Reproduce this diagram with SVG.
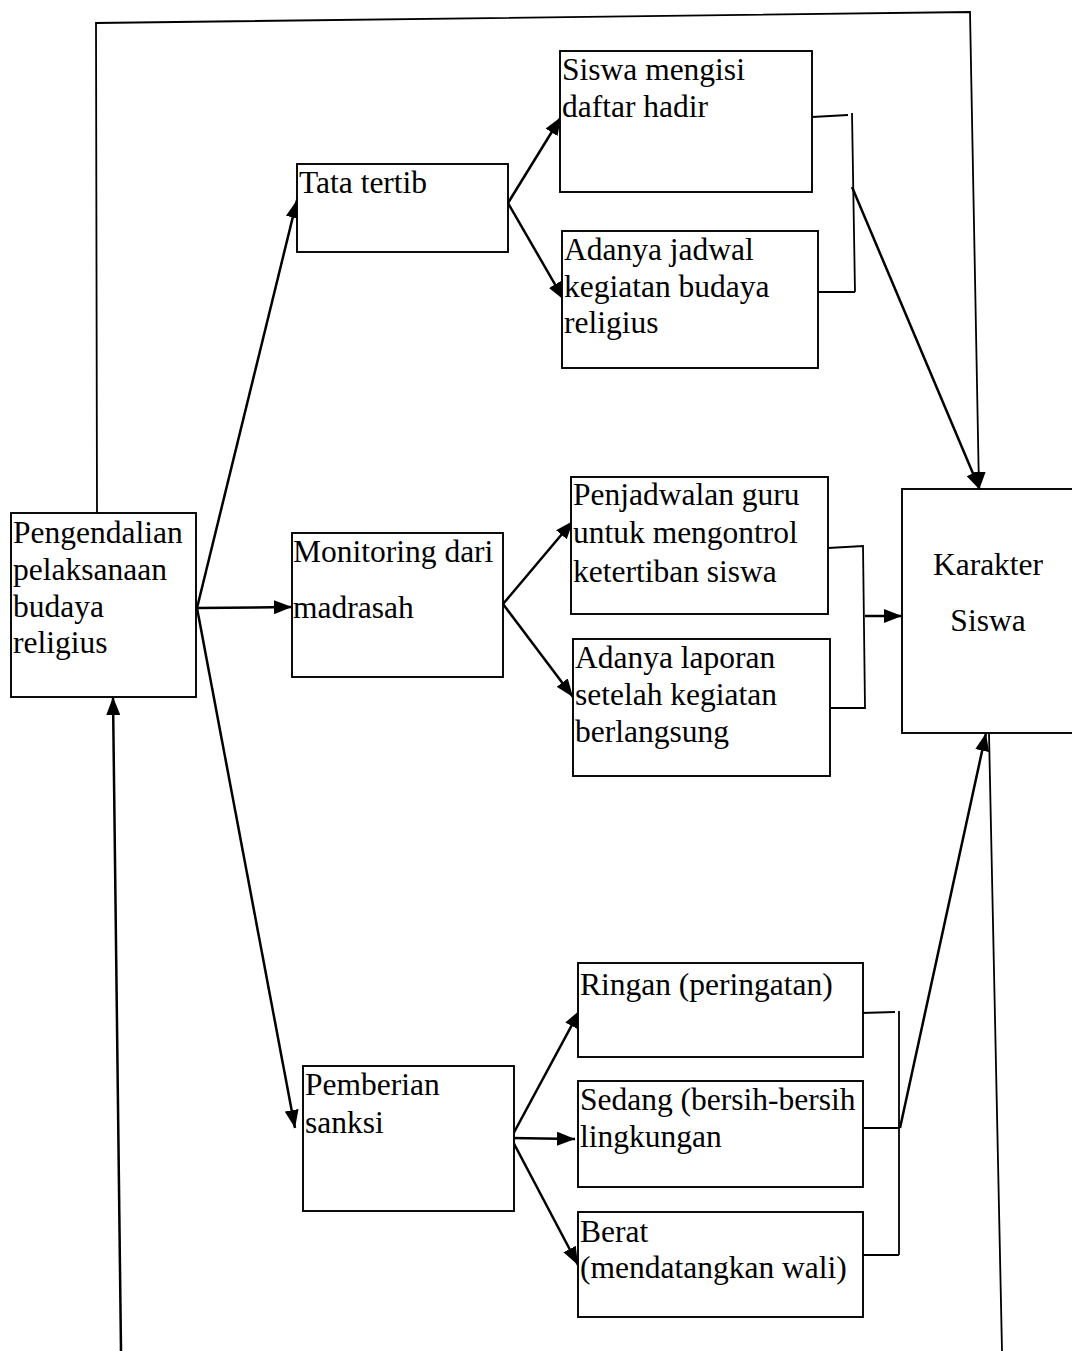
<svg xmlns="http://www.w3.org/2000/svg" width="1072" height="1351" viewBox="0 0 1072 1351">
  <style>
    .box { fill: #ffffff; stroke: #000000; stroke-width: 1.9; }
    .lbl { font-family: "Liberation Serif", "Times New Roman", serif; font-size: 31.5px; fill: #000000; }
    .mid { text-anchor: middle; }
    .conn { fill: none; stroke: #000000; stroke-width: 2.5; }
    .thin { fill: none; stroke: #000000; stroke-width: 1.8; }
  </style>
  <defs>
    <marker id="arrow" viewBox="0 0 18 14" refX="18" refY="7" markerWidth="18" markerHeight="14" markerUnits="userSpaceOnUse" orient="auto">
      <path d="M0,0 L18,7 L0,14 z" fill="#000000"/>
    </marker>
  </defs>
  <rect width="1072" height="1351" fill="#ffffff"/>

  <!-- connectors -->
  <g id="connectors">
    <!-- feedback loop along the top -->
    <polyline class="thin" points="97,515 96,23 970,12 979,490" marker-end="url(#arrow)"/>
    <!-- feedback loop along the bottom -->
    <line class="thin" x1="1002" y1="1351" x2="989" y2="733"/>
    <line class="conn" x1="121" y1="1351" x2="113" y2="697" marker-end="url(#arrow)"/>

    <!-- from Pengendalian to the three measures -->
    <line class="conn" x1="197" y1="608" x2="297" y2="200" marker-end="url(#arrow)"/>
    <line class="conn" x1="197" y1="608" x2="292" y2="607" marker-end="url(#arrow)"/>
    <line class="conn" x1="197" y1="608" x2="295" y2="1128" marker-end="url(#arrow)"/>

    <!-- Tata tertib branches -->
    <line class="conn" x1="508" y1="203" x2="561" y2="117" marker-end="url(#arrow)"/>
    <line class="conn" x1="508" y1="203" x2="564" y2="300" marker-end="url(#arrow)"/>

    <!-- Monitoring branches -->
    <line class="conn" x1="503" y1="604" x2="573" y2="521" marker-end="url(#arrow)"/>
    <line class="conn" x1="503" y1="604" x2="573" y2="697" marker-end="url(#arrow)"/>

    <!-- Pemberian sanksi branches -->
    <line class="conn" x1="511" y1="1138" x2="580" y2="1010" marker-end="url(#arrow)"/>
    <line class="conn" x1="511" y1="1138" x2="575" y2="1139" marker-end="url(#arrow)"/>
    <line class="conn" x1="511" y1="1138" x2="578" y2="1265" marker-end="url(#arrow)"/>

    <!-- bracket 1 (Tata tertib group) -->
    <path class="thin" d="M812,117 L848,115 M852,113 L855,292 M818,292 L855,292"/>
    <line class="conn" x1="852" y1="187" x2="980" y2="490" marker-end="url(#arrow)"/>

    <!-- bracket 2 (Monitoring group) -->
    <path class="thin" d="M828,548 L863,546 L865,708 L830,708"/>
    <line class="conn" x1="865" y1="616" x2="902" y2="616" marker-end="url(#arrow)"/>

    <!-- bracket 3 (sanksi group) -->
    <path class="thin" d="M861,1013 L895,1012 M899,1011 L899,1255 M862,1128 L899,1128 M863,1255 L899,1255"/>
    <line class="conn" x1="900" y1="1128" x2="986" y2="733" marker-end="url(#arrow)"/>
  </g>

  <!-- nodes -->
  <g id="pengendalian">
    <rect class="box" x="11" y="513" width="185" height="184"/>
    <text class="lbl" x="13" y="543">Pengendalian</text>
    <text class="lbl" x="13" y="580">pelaksanaan</text>
    <text class="lbl" x="13" y="617">budaya</text>
    <text class="lbl" x="13" y="653">religius</text>
  </g>

  <g id="tata-tertib">
    <rect class="box" x="297" y="164" width="211" height="88"/>
    <text class="lbl" x="299" y="193">Tata tertib</text>
  </g>

  <g id="monitoring">
    <rect class="box" x="292" y="533" width="211" height="144"/>
    <text class="lbl" x="293" y="562">Monitoring dari</text>
    <text class="lbl" x="293" y="618">madrasah</text>
  </g>

  <g id="pemberian-sanksi">
    <rect class="box" x="303" y="1066" width="211" height="145"/>
    <text class="lbl" x="305" y="1095">Pemberian</text>
    <text class="lbl" x="305" y="1133">sanksi</text>
  </g>

  <g id="daftar-hadir">
    <rect class="box" x="560" y="51" width="252" height="141"/>
    <text class="lbl" x="562" y="80">Siswa mengisi</text>
    <text class="lbl" x="562" y="117">daftar hadir</text>
  </g>

  <g id="jadwal-kegiatan">
    <rect class="box" x="562" y="231" width="256" height="137"/>
    <text class="lbl" x="564" y="260">Adanya jadwal</text>
    <text class="lbl" x="564" y="297">kegiatan budaya</text>
    <text class="lbl" x="564" y="333">religius</text>
  </g>

  <g id="penjadwalan-guru">
    <rect class="box" x="571" y="477" width="257" height="137"/>
    <text class="lbl" x="573" y="505">Penjadwalan guru</text>
    <text class="lbl" x="573" y="543">untuk mengontrol</text>
    <text class="lbl" x="573" y="582">ketertiban siswa</text>
  </g>

  <g id="laporan-kegiatan">
    <rect class="box" x="573" y="639" width="257" height="137"/>
    <text class="lbl" x="575" y="668">Adanya laporan</text>
    <text class="lbl" x="575" y="705">setelah kegiatan</text>
    <text class="lbl" x="575" y="742">berlangsung</text>
  </g>

  <g id="sanksi-ringan">
    <rect class="box" x="578" y="963" width="285" height="94"/>
    <text class="lbl" x="580" y="995">Ringan (peringatan)</text>
  </g>

  <g id="sanksi-sedang">
    <rect class="box" x="578" y="1081" width="285" height="106"/>
    <text class="lbl" x="580" y="1110">Sedang (bersih-bersih</text>
    <text class="lbl" x="580" y="1147">lingkungan</text>
  </g>

  <g id="sanksi-berat">
    <rect class="box" x="578" y="1212" width="285" height="105"/>
    <text class="lbl" x="580" y="1242">Berat</text>
    <text class="lbl" x="580" y="1278">(mendatangkan wali)</text>
  </g>

  <g id="karakter-siswa">
    <rect class="box" x="902" y="489" width="180" height="244"/>
    <text class="lbl mid" x="988" y="575">Karakter</text>
    <text class="lbl mid" x="988" y="631">Siswa</text>
  </g>
</svg>
